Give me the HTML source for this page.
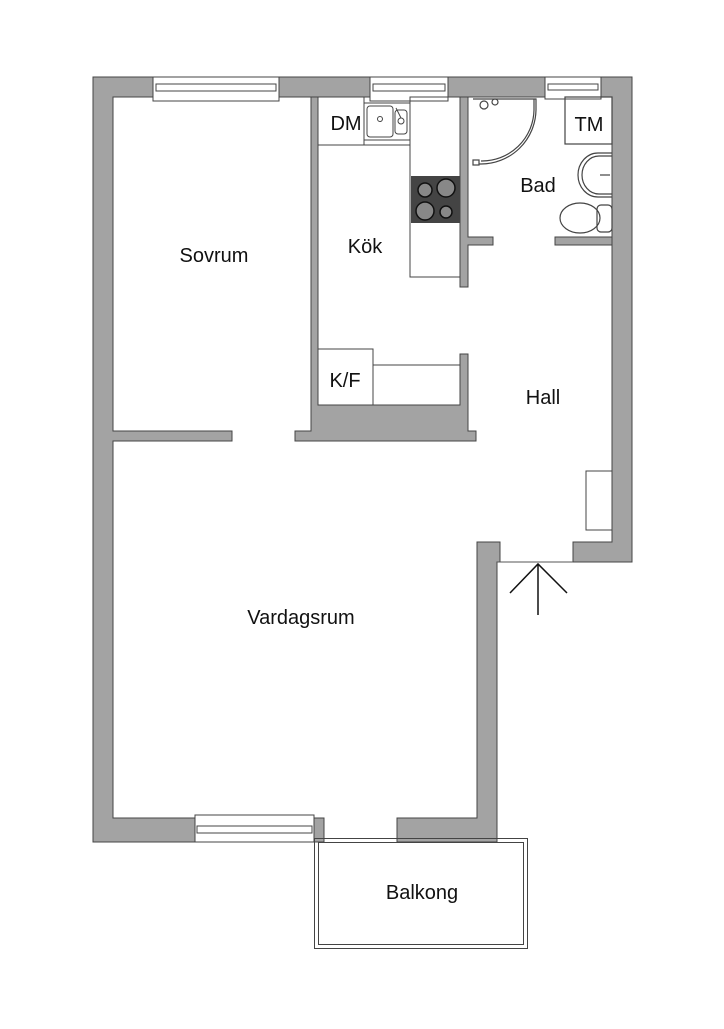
<!DOCTYPE html>
<html><head><meta charset="utf-8"><style>
html,body{margin:0;padding:0;background:#fff;}
text{font-family:"Liberation Sans",sans-serif;font-size:20px;fill:#111;}
</style></head><body>
<svg width="724" height="1024" viewBox="0 0 724 1024" xmlns="http://www.w3.org/2000/svg">
<g fill="#a3a3a3" stroke="#444" stroke-width="1">
<!-- outer left + top -->
<path d="M93,77 H153 V97 H113 V431 H232 V441 H113 V818 H195 V842 H93 Z"/>
<rect x="279" y="77" width="91" height="20"/>
<rect x="448" y="77" width="97" height="20"/>
<path d="M601,77 H632 V562 H573 V542 H612 V97 H601 Z"/>
<!-- interior sovrum/kitchen wall -->
<path d="M311,97 H318 V405 H460 V354 H468 V431 H476 V441 H295 V431 H311 Z"/>
<!-- kitchen/bath wall -->
<path d="M460,97 H468 V237 H493 V245 H468 V287 H460 Z"/>
<rect x="555" y="237" width="57" height="8"/>
<!-- lower right wall -->
<path d="M477,542 H500 V562 H497 V842 H397 V818 H477 Z"/>
<rect x="314" y="818" width="10" height="24"/>
</g>
<!-- windows -->
<g fill="#fff" stroke="#444" stroke-width="1">
<rect x="153" y="77" width="126" height="24"/>
<rect x="156" y="84" width="120" height="7"/>
<rect x="370" y="77" width="78" height="24"/>
<rect x="373" y="84" width="72" height="7"/>
<rect x="545" y="77" width="56" height="22"/>
<rect x="548" y="84" width="50" height="6"/>
<rect x="195" y="815" width="119" height="27"/>
<rect x="197" y="826" width="115" height="7"/>
</g>
<!-- kitchen -->
<g fill="none" stroke="#444" stroke-width="1">
<rect x="318" y="97" width="46" height="48"/>
<line x1="364" y1="145" x2="410" y2="145"/>
<rect x="410" y="97" width="50" height="180"/>
<rect x="364" y="103" width="46" height="37"/>
<rect x="367" y="106" width="26" height="31" rx="3"/>
<rect x="395" y="110" width="12" height="24" rx="3"/>
<circle cx="380" cy="119" r="2.5"/>
<circle cx="401" cy="121" r="3"/>
<line x1="396" y1="108" x2="401" y2="118"/>
<rect x="318" y="349" width="55" height="56"/>
<rect x="373" y="365" width="87" height="40"/>
<rect x="586" y="471" width="26" height="59"/>
</g>
<rect x="411" y="176" width="49" height="47" fill="#444"/>
<g stroke="#111" stroke-width="1.5" fill="#888">
<circle cx="425" cy="190" r="7"/><circle cx="446" cy="188" r="9"/>
<circle cx="425" cy="211" r="9"/><circle cx="446" cy="212" r="6"/>
</g>
<!-- bath -->
<g fill="none" stroke="#444" stroke-width="1.2">
<path d="M473,99 H536 V110 A55,55 0 0 1 481,164 H473"/>
<path d="M534,99 V110 A52,52 0 0 1 481,161"/>
<rect x="473" y="160" width="6" height="5" fill="#fff"/>
<rect x="565" y="97" width="47" height="47"/>
<path d="M612,153 H598 A20,22 0 0 0 598,197 H612"/>
<path d="M612,156 H599 A17,19 0 0 0 599,194 H612"/>
<line x1="600" y1="175" x2="610" y2="175"/>
<ellipse cx="580" cy="218" rx="20" ry="15"/>
<rect x="597" y="205" width="15" height="27" rx="4"/>
<circle cx="484" cy="105" r="4"/><circle cx="495" cy="102" r="3"/>
</g>
<!-- door -->
<g stroke="#111" stroke-width="1.5" fill="none">
<line x1="497" y1="562" x2="573" y2="562" stroke="#555" stroke-width="1"/>
<line x1="538" y1="564" x2="538" y2="615"/>
<polyline points="510,593 538,564 567,593"/>
</g>
<!-- balcony -->
<rect x="314.5" y="838.5" width="213" height="110" fill="none" stroke="#444"/>
<rect x="318.5" y="842.5" width="205" height="102" fill="none" stroke="#444"/>
<!-- labels -->
<text x="214" y="262" text-anchor="middle">Sovrum</text>
<text x="365" y="253" text-anchor="middle">Kök</text>
<text x="346" y="130" text-anchor="middle">DM</text>
<text x="589" y="131" text-anchor="middle">TM</text>
<text x="538" y="192" text-anchor="middle">Bad</text>
<text x="345" y="387" text-anchor="middle">K/F</text>
<text x="543" y="404" text-anchor="middle">Hall</text>
<text x="301" y="624" text-anchor="middle">Vardagsrum</text>
<text x="422" y="899" text-anchor="middle">Balkong</text>
</svg>
</body></html>
